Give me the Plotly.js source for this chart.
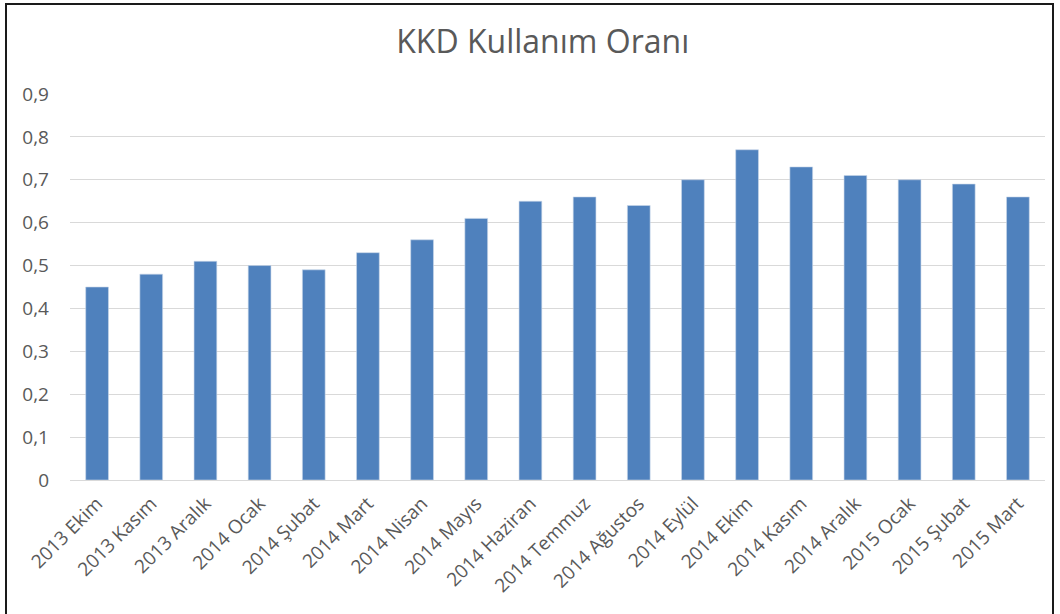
<!DOCTYPE html>
<html>
<head>
<meta charset="utf-8">
<script src="https://cdn.plot.ly/plotly-3.0.1.min.js"></script>
<style>
html,body{margin:0;padding:0;background:#fff;}
#chart{width:1060px;height:614px;}
#frame{position:absolute;left:5px;top:3px;width:1045px;height:640px;border:2px solid #1a1a1a;pointer-events:none;}
</style>
</head>
<body>
<div id="chart"></div>
<div id="frame"></div>
<script>
const categories = ["2013 Ekim","2013 Kasım","2013 Aralık","2014 Ocak","2014 Şubat","2014 Mart","2014 Nisan","2014 Mayıs","2014 Haziran","2014 Temmuz","2014 Ağustos","2014 Eylül","2014 Ekim","2014 Kasım","2014 Aralık","2015 Ocak","2015 Şubat","2015 Mart"];
const values = [0.45,0.48,0.51,0.50,0.49,0.53,0.56,0.61,0.65,0.66,0.64,0.70,0.77,0.73,0.71,0.70,0.69,0.66];
const yTickVals = [0,0.1,0.2,0.3,0.4,0.5,0.6,0.7,0.8,0.9];
const yTickText = ["0","0,1","0,2","0,3","0,4","0,5","0,6","0,7","0,8","0,9"];

const font = "Open Sans, Liberation Sans, sans-serif";
Plotly.newPlot("chart", [{
  type: "bar",
  x: categories,
  y: values,
  marker: {color: "#4F81BD", line: {color: "#C9D7EA", width: 0.6}},
  hoverinfo: "x+y"
}], {
  width: 1060, height: 614,
  margin: {l: 70, r: 15, t: 94, b: 134},
  paper_bgcolor: "#fff", plot_bgcolor: "#fff",
  title: {text: "KKD Kullanım Oranı", x: 0.512, xanchor: "center", y: 0.932, yanchor: "middle",
          font: {family: font, size: 32, color: "#595959"}},
  bargap: 0.58,
  showlegend: false,
  xaxis: {
    tickangle: -45,
    tickfont: {family: font, size: 19, color: "#595959"},
    showgrid: false, showline: true, linecolor: "#d9d9d9", linewidth: 1,
    ticks: "", ticklabelstandoff: 4, automargin: false
  },
  yaxis: {
    range: [0, 0.9],
    tickvals: yTickVals, ticktext: yTickText,
    tickfont: {family: font, size: 19, color: "#595959"},
    gridcolor: "#d9d9d9", gridwidth: 1,
    zeroline: false, showline: false, ticks: "",
    ticklabelstandoff: 20, automargin: false
  }
}, {displayModeBar: false, responsive: false});
</script>
</body>
</html>
